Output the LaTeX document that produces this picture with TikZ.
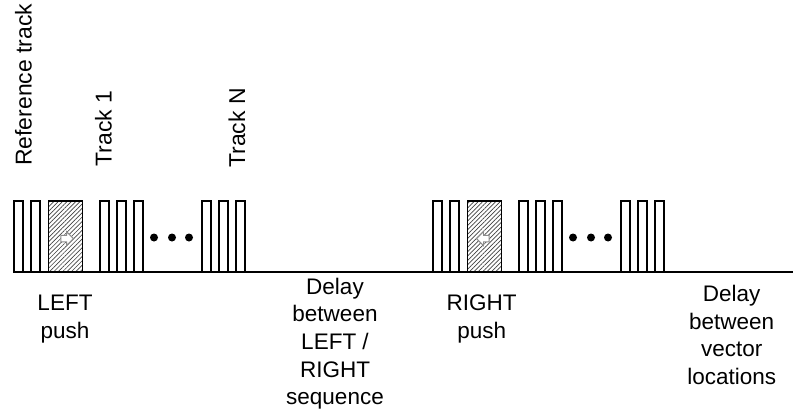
\documentclass[tikz,border=0pt]{standalone}
\usepackage{fontspec}
\setmainfont{Liberation Sans}
\usetikzlibrary{positioning, patterns.meta, shapes.arrows}

\begin{document}
\begin{tikzpicture}[
                x=0.025cm, y=-0.025cm,
                trackbar/.style={
                    rectangle,
                    draw,
                    line width=0.9pt,
                    minimum width=0.225cm,
                    minimum height=1.775cm,
                    inner sep=0,
                    outer sep=0,
                    anchor=south west
                },
                pushbar/.style={
                    trackbar,
                    minimum width=0.85cm,
                    pattern={Lines[angle=45, distance=2.2pt, line width=0.5pt]},
                    pattern color=black!75
                },
                pusharrow/.style={
                    single arrow,
                    draw=black!45,
                    fill=white,
                    line width=0.7pt,
                    inner sep=2pt,
                    single arrow head extend=2.6pt,
                    minimum height=9pt
                },
                seqdot/.style={circle, fill, inner sep=0, minimum size=0.2cm},
                desc/.style={
                    font=\fontsize{16}{19.7}\selectfont,
                    align=center,
                    inner sep=0,
                    anchor=north
                },
                tracklabel/.style={
                    font=\fontsize{16.3}{19.7}\selectfont,
                    rotate=90,
                    anchor=base west,
                    inner sep=0
                }
            ]
            \useasboundingbox (0,0) rectangle (800,413);

            % push sequences, LEFT then RIGHT
            \foreach \side/\off/\dir in {L/0/0, R/419/180} {
                \node[trackbar] (\side ref1) at (14+\off,272) {};
                \node[trackbar] (\side ref2) at (31+\off,272) {};
                \node[pushbar] (\side push) at (48.5+\off,272) {};
                \node[pusharrow, shape border rotate=\dir] (\side arrow)
                    at ([yshift=-1.5]\side push.center) {};
                \foreach \x [count=\i] in {100,117,134}
                    \node[trackbar] (\side first\i) at (\x+\off,272) {};
                \foreach \x [count=\i] in {154,172,189}
                    \node[seqdot] (\side dot\i) at (\x+\off,237.5) {};
                \foreach \x [count=\i] in {202,219,236}
                    \node[trackbar] (\side last\i) at (\x+\off,272) {};
            }

            \coordinate (axisstart) at (13,272);
            \coordinate (axisend) at (793,272);
            \draw[line width=1.3pt] (axisstart) -- (axisend);

            \node[tracklabel] (reflabel) at (31.7,166) {Reference track};
            \node[tracklabel] (firstlabel) at (111.7,166.5) {Track 1};
            \node[tracklabel] (lastlabel) at (245,168) {Track N};

            \node[desc] (leftpush) at (65,295) {LEFT\\push};
            \node[desc] (lrdelay) at (335,277.5) {Delay\\between\\LEFT /\\RIGHT\\sequence};
            \node[desc] (rightpush) at (481.7,295) {RIGHT\\push};
            \node[desc] (vecdelay) at (731.7,285) {Delay\\between\\vector\\locations};
            \end{tikzpicture}
\end{document}
